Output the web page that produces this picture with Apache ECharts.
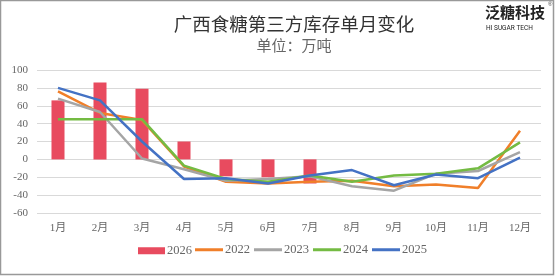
<!DOCTYPE html>
<html>
<head>
<meta charset="utf-8">
<script src="https://cdn.jsdelivr.net/npm/echarts@6/dist/echarts.min.js"></script>
<style>
html,body{margin:0;padding:0;background:#fff;}
#chart{width:555px;height:276px;}
</style>
</head>
<body>
<div id="chart"></div>
<script>
// 月份
const months=['1月','2月','3月','4月','5月','6月','7月','8月','9月','10月','11月','12月'];
// 单月变化（万吨）
const y2026=[66,86,79,20,-19,-20,-27];
const y2022=[76,52,44,-8,-25,-27,-25,-24,-30,-28,-32,32];
const y2023=[68,53,1,-11,-24,-22,-19,-30,-35,-16,-13,8];
const y2024=[45,45,45,-7,-22,-25,-18,-25,-18,-16,-10,19];
const y2025=[80,66,20,-22,-21,-27,-18,-12,-29,-17,-21,2];

const serif="'Liberation Serif','DejaVu Serif','Noto Sans CJK SC',serif";
const cjk="'Noto Sans CJK SC',serif";

const chart=echarts.init(document.getElementById('chart'));
const lineS=(name,data,color)=>({name,type:'line',data,symbol:'none',
    lineStyle:{color,width:2.5},itemStyle:{color},z:3});

chart.setOption({
    backgroundColor:'#fff',
    animation:false,
    title:[
        {text:'广西食糖第三方库存单月变化',left:289,textAlign:'center',top:10,
         textStyle:{fontFamily:cjk,fontSize:18.5,fontWeight:'normal',color:'#333'}},
        {text:'单位：万吨',left:289,textAlign:'center',top:33,
         textStyle:{fontFamily:cjk,fontSize:15,fontWeight:'normal',color:'#666'}}
    ],
    graphic:[
        {type:'rect',shape:{x:0.5,y:0.5,width:553,height:274},style:{fill:'none',stroke:'#999',lineWidth:1.5},silent:true},
        {type:'text',left:485,top:5,style:{text:'泛糖科技',font:'bold 15px '+cjk,fill:'#222'}},
        {type:'text',left:486,top:25,style:{text:'HI SUGAR TECH',font:'6.5px Roboto,sans-serif',fill:'#222'}},
        {type:'text',left:548,top:1,style:{text:'®',font:'6px sans-serif',fill:'#444'}}
    ],
    legend:[
        {left:133,bottom:14,itemWidth:27,itemHeight:7,icon:'rect',
         textStyle:{fontFamily:serif,fontSize:12.5,color:'#666',padding:[0,0,0,-3]},
         data:['2026']},
        {left:190,bottom:15,itemGap:4,itemWidth:28,itemHeight:3,icon:'rect',
         textStyle:{fontFamily:serif,fontSize:12.5,color:'#666',padding:[0,0,0,-3]},
         data:['2022','2023','2024','2025']}
    ],
    grid:{left:37,right:14,top:70,bottom:63},
    xAxis:{
        type:'category',data:months,
        axisLine:{show:false},axisTick:{show:false},
        axisLabel:{fontFamily:serif,fontSize:11,color:'#666',margin:10}
    },
    yAxis:{
        type:'value',min:-60,max:100,interval:20,
        axisLine:{show:false},axisTick:{show:false},
        axisLabel:{fontFamily:serif,fontSize:11,color:'#666',margin:9},
        splitLine:{lineStyle:{color:'#d9d9d9',width:1}}
    },
    series:[
        {name:'2026',type:'bar',data:y2026,barWidth:'31%',itemStyle:{color:'#E84B5F'},z:2},
        lineS('2022',y2022,'#F07F2A'),
        lineS('2023',y2023,'#A5A5A5'),
        lineS('2024',y2024,'#74BB43'),
        lineS('2025',y2025,'#4472C4')
    ]
});
</script>
</body>
</html>
